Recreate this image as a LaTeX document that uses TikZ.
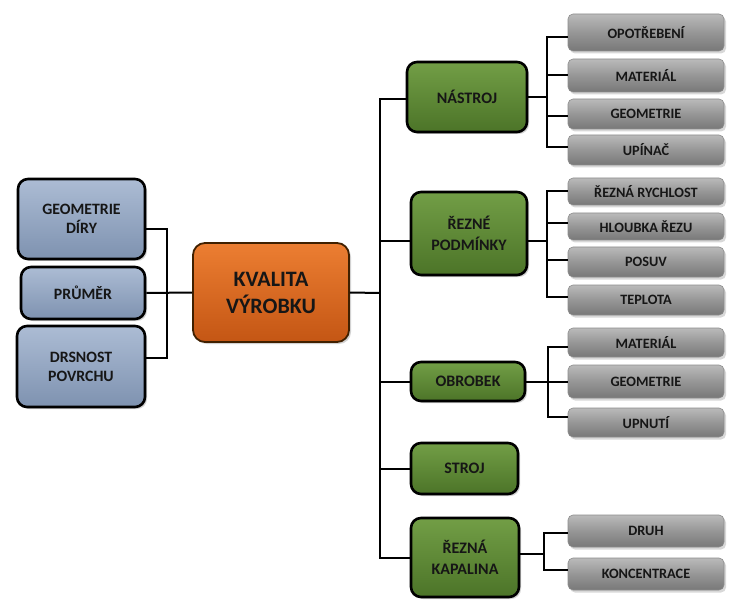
\documentclass[tikz,border=0pt]{standalone}
\usepackage{fontspec}
\setmainfont{Carlito}
\usetikzlibrary{shadows}
\definecolor{bluetop}{RGB}{172,188,212}
\definecolor{bluebot}{RGB}{126,146,176}
\definecolor{orgtop}{RGB}{236,126,50}
\definecolor{orgbot}{RGB}{196,86,20}
\definecolor{grntop}{RGB}{114,158,70}
\definecolor{grnbot}{RGB}{76,116,40}
\definecolor{graytop}{RGB}{186,186,186}
\definecolor{graymid}{RGB}{150,150,150}
\definecolor{graybot}{RGB}{120,120,120}
\definecolor{txt}{RGB}{22,22,22}
\tikzset{
  base/.style={align=center, inner sep=0pt, text=txt, font=\bfseries},
  bluebox/.style={base, rounded corners=10pt, draw=black, line width=2.6pt,
     top color=bluetop, bottom color=bluebot,
     drop shadow={shadow xshift=2pt, shadow yshift=-2pt, fill=black!35},
     font=\bfseries\fontsize{15.8}{19}\selectfont},
  orgbox/.style={base, rounded corners=12pt, draw=black!75!orange, line width=1.8pt,
     top color=orgtop, bottom color=orgbot,
     drop shadow={shadow xshift=2pt, shadow yshift=-2pt, fill=black!35},
     font=\bfseries\fontsize{22}{27}\selectfont},
  grnbox/.style={base, rounded corners=10pt, draw=black, line width=2.6pt,
     top color=grntop, bottom color=grnbot,
     drop shadow={shadow xshift=2pt, shadow yshift=-2pt, fill=black!35},
     font=\bfseries\fontsize{16}{21}\selectfont},
  graybox/.style={base, rounded corners=5pt, draw=black!45, line width=0.6pt,
     top color=graytop, bottom color=graybot, middle color=graymid,
     minimum width=156pt,
     drop shadow={shadow xshift=2pt, shadow yshift=-2.5pt, fill=black!30},
     font=\bfseries\fontsize{14.3}{17}\selectfont},
  conn/.style={draw=black, line width=2pt}
}
\begin{document}
\begin{tikzpicture}[x=1pt,y=-1pt]
\useasboundingbox (0,0) rectangle (733,612);
% left boxes
\node[bluebox, minimum width=127pt, minimum height=80pt] (geo) at (81.5,219) {GEOMETRIE\\DÍRY};
\node[bluebox, minimum width=124pt, minimum height=52pt] (pru) at (83,293) {PRŮMĚR};
\node[bluebox, minimum width=128pt, minimum height=81pt] (drs) at (81,366.5) {DRSNOST\\POVRCHU};
% center
\node[orgbox, minimum width=156pt, minimum height=99pt] (kval) at (271,292.5) {KVALITA\\VÝROBKU};
% green
\node[grnbox, minimum width=120pt, minimum height=70pt] (nas) at (467,97) {NÁSTROJ};
\node[grnbox, minimum width=116pt, minimum height=83pt] (rez) at (469,233.5) {ŘEZNÉ\\PODMÍNKY};
\node[grnbox, minimum width=114pt, minimum height=39pt] (obr) at (468,381.5) {OBROBEK};
\node[grnbox, minimum width=107pt, minimum height=51pt] (str) at (464.5,468.5) {STROJ};
\node[grnbox, minimum width=108pt, minimum height=79pt] (kap) at (465,557.5) {ŘEZNÁ\\KAPALINA};
% gray
\node[graybox, minimum height=37pt] (g1) at (646,32.5) {OPOTŘEBENÍ};
\node[graybox, minimum height=33pt] (g2) at (646,75.5) {MATERIÁL};
\node[graybox, minimum height=30pt] (g3) at (646,114) {GEOMETRIE};
\node[graybox, minimum height=30pt] (g4) at (646,150) {UPÍNAČ};
\node[graybox, minimum height=27pt] (g5) at (646,191.5) {ŘEZNÁ RYCHLOST};
\node[graybox, minimum height=27pt] (g6) at (646,226.5) {HLOUBKA ŘEZU};
\node[graybox, minimum height=30pt] (g7) at (646,262) {POSUV};
\node[graybox, minimum height=30pt] (g8) at (646,300) {TEPLOTA};
\node[graybox, minimum height=29pt] (g9) at (646,342.5) {MATERIÁL};
\node[graybox, minimum height=33pt] (g10) at (646,381.5) {GEOMETRIE};
\node[graybox, minimum height=29pt] (g11) at (646,422.5) {UPNUTÍ};
\node[graybox, minimum height=32pt] (g12) at (646,531) {DRUH};
\node[graybox, minimum height=32pt] (g13) at (646,574) {KONCENTRACE};
% bracket coordinates
\coordinate (lb) at (167,293);
\coordinate (tr) at (380,293);
\coordinate (bn) at (547,97);
\coordinate (br) at (547,241);
\coordinate (bo) at (548,381);
\coordinate (bk) at (544,554);
% left connectors
\draw[conn] ([yshift=-10pt]geo.east) -| (lb);
\draw[conn] (drs.east) ++(0,-9) -| (lb);
\draw[conn] (pru.east) -- (kval.west);
% trunk
\draw[conn] (kval.east) -- (tr);
\draw[conn] (tr) |- ([yshift=-2pt]nas.west);
\draw[conn] (tr) |- ([yshift=-7.5pt]rez.west);
\draw[conn] (tr) |- (obr.west);
\draw[conn] (tr) |- (str.west);
\draw[conn] (tr) |- (kap.west);
% nastroj
\draw[conn] (nas.east) -- (bn);
\draw[conn] (bn) |- ([yshift=-5pt]g1.west);
\draw[conn] (bn) |- (g2.west);
\draw[conn] (bn) |- ([yshift=-2pt]g3.west);
\draw[conn] (bn) |- ([yshift=3pt]g4.west);
% rezne podminky
\draw[conn] (rez.east |- br) -- (br);
\draw[conn] (br) |- (g5.west);
\draw[conn] (br) |- ([yshift=3pt]g6.west);
\draw[conn] (br) |- ([yshift=2pt]g7.west);
\draw[conn] (br) |- ([yshift=3pt]g8.west);
% obrobek
\draw[conn] (obr.east) -- (g10.west);
\draw[conn] (bo) |- ([yshift=-4pt]g9.west);
\draw[conn] (bo) |- ([yshift=6pt]g11.west);
% kapalina
\draw[conn] (kap.east |- bk) -- (bk);
\draw[conn] (bk) |- ([yshift=-2pt]g12.west);
\draw[conn] (bk) |- ([yshift=4pt]g13.west);
\end{tikzpicture}
\end{document}
